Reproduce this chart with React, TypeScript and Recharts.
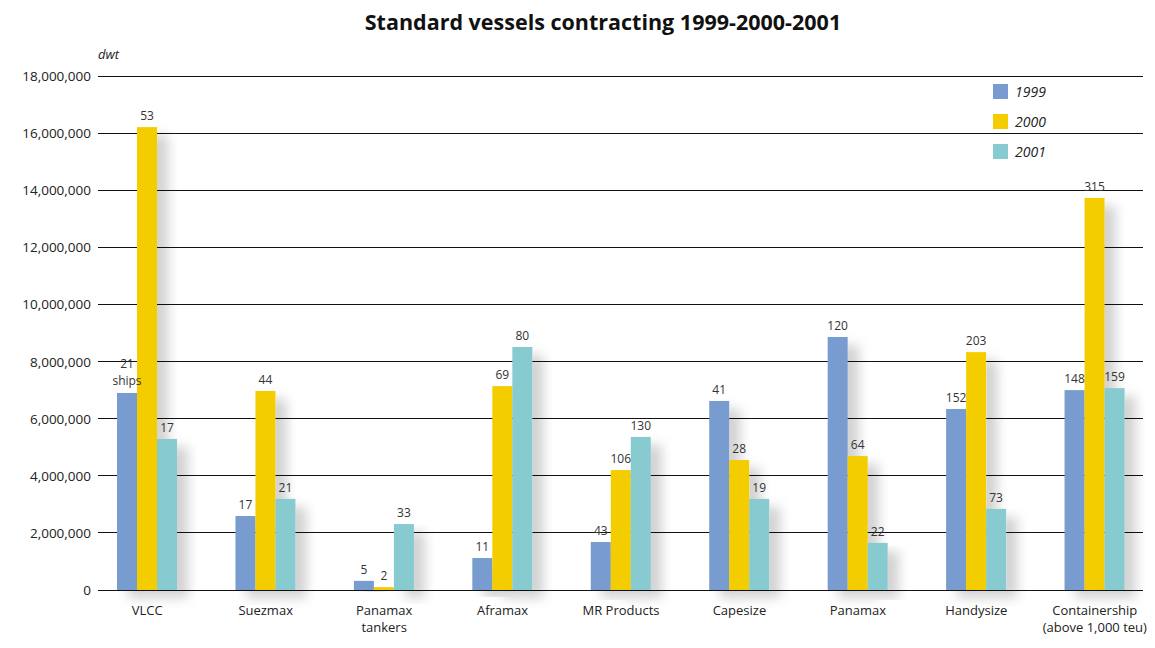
import React from "react";
import { BarChart, Bar, XAxis, YAxis, CartesianGrid, Legend, LabelList } from "recharts";

const categories = [
  "VLCC",
  "Suezmax",
  "Panamax\ntankers",
  "Aframax",
  "MR Products",
  "Capesize",
  "Panamax",
  "Handysize",
  "Containership\n(above 1,000 teu)",
];

// dwt contracted
const dwt1999 = [6900000, 2590000, 320000, 1120000, 1680000, 6620000, 8860000, 6340000, 7000000];
const dwt2000 = [16210000, 6970000, 100000, 7140000, 4200000, 4550000, 4690000, 8330000, 13730000];
const dwt2001 = [5290000, 3190000, 2310000, 8510000, 5360000, 3190000, 1650000, 2840000, 7070000];

// number of ships
const ships1999 = [21, 17, 5, 11, 43, 41, 120, 152, 148];
const ships2000 = [53, 44, 2, 69, 106, 28, 64, 203, 315];
const ships2001 = [17, 21, 33, 80, 130, 19, 22, 73, 159];

const yTicks = [0, 2000000, 4000000, 6000000, 8000000, 10000000, 12000000, 14000000, 16000000, 18000000];

const seriesInfo = [
  { key: "y1999", name: "1999", color: "#789ccf" },
  { key: "y2000", name: "2000", color: "#f4cd00" },
  { key: "y2001", name: "2001", color: "#87cbd0" },
];

const data = categories.map((c, i) => ({
  name: c,
  y1999: dwt1999[i],
  y2000: dwt2000[i],
  y2001: dwt2001[i],
  s1999: ships1999[i],
  s2000: ships2000[i],
  s2001: ships2001[i],
}));

const FONT = "'Open Sans', 'Noto Sans', sans-serif";

const ShadowBar = (props: any) => {
  const { x, y, width, height, fill } = props;
  if (!height || height <= 0) return null;
  return <rect x={x} y={y} width={width} height={height} fill={fill} filter="url(#barShadow)" />;
};

const makeLabel = (withShips: boolean) => (props: any) => {
  const { x, y, width, value, index } = props;
  const cx = Number(x) + Number(width) / 2;
  const top = Number(y);
  if (withShips && index === 0) {
    return (
      <g>
        <text x={cx} y={top - 25} textAnchor="middle" fontSize={12} fill="#333" fontFamily={FONT}>
          {value}
        </text>
        <text x={cx} y={top - 8} textAnchor="middle" fontSize={12} fill="#333" fontFamily={FONT}>
          ships
        </text>
      </g>
    );
  }
  return (
    <text x={cx} y={top - 7} textAnchor="middle" fontSize={12} fill="#333" fontFamily={FONT}>
      {value}
    </text>
  );
};

const XTick = (props: any) => {
  const { x, y, payload } = props;
  const lines = String(payload.value).split("\n");
  return (
    <text x={x} y={y + 17} textAnchor="middle" fontSize={13} fill="#222" fontFamily={FONT}>
      {lines.map((l, i) => (
        <tspan key={i} x={x} dy={i === 0 ? 0 : 17}>
          {l}
        </tspan>
      ))}
    </text>
  );
};

const YTick = (props: any) => {
  const { x, y, payload } = props;
  return (
    <text x={x + 3} y={y + 5} textAnchor="end" fontSize={13.5} fill="#222" fontFamily={FONT}>
      {Number(payload.value).toLocaleString("en-US")}
    </text>
  );
};

const LegendBox = () => (
  <div style={{ fontFamily: FONT }}>
    {seriesInfo.map((s) => (
      <div key={s.key} style={{ display: "flex", alignItems: "center", height: 30 }}>
        <div style={{ width: 15, height: 15, background: s.color, marginRight: 7 }} />
        <span style={{ fontSize: 14, fontStyle: "italic", color: "#222" }}>{s.name}</span>
      </div>
    ))}
  </div>
);

export default function App() {
  return (
    <div style={{ position: "absolute", left: 0, top: 0, width: 1155, height: 648, background: "#fff" }}>
      <div
        style={{
          position: "absolute",
          top: 7,
          left: 0,
          width: 1206,
          textAlign: "center",
          fontFamily: FONT,
          fontWeight: 700,
          fontSize: 21.5,
          color: "#111",
        }}
      >
        Standard vessels contracting 1999-2000-2001
      </div>
      <div
        style={{
          position: "absolute",
          top: 45,
          left: 98,
          fontFamily: FONT,
          fontStyle: "italic",
          fontSize: 13,
          color: "#222",
        }}
      >
        dwt
      </div>
      <BarChart
        width={1155}
        height={648}
        data={data}
        margin={{ top: 76, right: 1, left: 0, bottom: 18 }}
        barGap={0}
        barSize={20}
      >
        <defs>
          <filter id="barShadow" x="-50%" y="-10%" width="250%" height="130%">
            <feGaussianBlur in="SourceAlpha" stdDeviation="6" />
            <feOffset dx="11" dy="8" result="blur" />
            <feFlood floodColor="#000" floodOpacity="0.18" />
            <feComposite in2="blur" operator="in" />
            <feMerge>
              <feMergeNode />
              <feMergeNode in="SourceGraphic" />
            </feMerge>
          </filter>
        </defs>
        <CartesianGrid
          x={98}
          width={1045}
          vertical={false}
          stroke="#111"
          strokeWidth={1}
          shapeRendering="crispEdges"
        />
        <XAxis
          dataKey="name"
          interval={0}
          axisLine={false}
          tickLine={false}
          height={40}
          tick={<XTick />}
        />
        <YAxis
          domain={[0, 18000000]}
          ticks={yTicks}
          width={88}
          axisLine={false}
          tickLine={false}
          tickSize={0}
          tickMargin={0}
          tick={<YTick />}
        />
        <Legend
          content={<LegendBox />}
          verticalAlign="bottom"
          wrapperStyle={{ position: "absolute", top: 76, left: 993, width: 100, height: 0, overflow: "visible" }}
        />
        {seriesInfo.map((s, si) => (
          <Bar
            key={s.key}
            dataKey={s.key}
            name={s.name}
            fill={s.color}
            shape={<ShadowBar />}
            isAnimationActive={false}
          >
            <LabelList
              dataKey={["s1999", "s2000", "s2001"][si]}
              content={makeLabel(si === 0)}
            />
          </Bar>
        ))}
      </BarChart>
    </div>
  );
}
